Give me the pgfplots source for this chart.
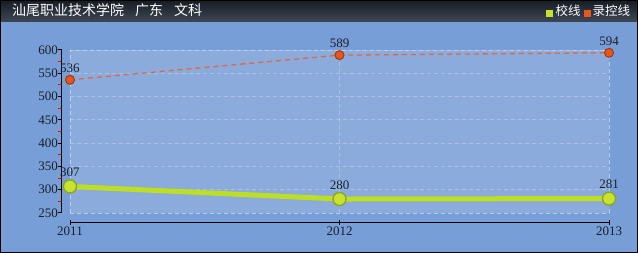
\documentclass[border=0pt]{standalone}
\usepackage{pgfplots}
\pgfplotsset{compat=1.18}
\usepackage{fontspec}
\setmainfont{Liberation Serif}
\newfontfamily\cjk{Noto Sans CJK SC}
\definecolor{bgblue}{HTML}{779ED6}
\definecolor{linegreen}{HTML}{BEDE22}
\definecolor{markgreen}{HTML}{C8E230}
\definecolor{edgegreen}{HTML}{8DA61A}
\definecolor{lineorange}{HTML}{E2693A}
\definecolor{markorange}{HTML}{E2581E}
\definecolor{edgeorange}{HTML}{A8340F}
\definecolor{axisdark}{HTML}{1A1F2A}
\begin{document}
\begin{tikzpicture}[x=1pt,y=1pt]
% background
\fill[bgblue] (0,0) rectangle (638,231);
\shade[top color={rgb,255:red,22;green,28;blue,36}, bottom color={rgb,255:red,62;green,72;blue,84}] (0,231) rectangle (638,253);
\draw[black, line width=1pt] (0.5,0.5) rectangle (637.5,252.5);
% title
\node[anchor=base west, text=white, inner sep=0pt, font=\cjk\fontsize{14}{14}\selectfont] at (12,237) {汕尾职业技术学院\hspace{11pt}广东\hspace{11pt}文科};
% legend
\fill[markgreen] (546,235.5) rectangle (553,242.5);
\node[anchor=base west, text=white, inner sep=0pt, font=\cjk\fontsize{12.5}{13}\selectfont] at (555.5,237) {校线};
\fill[markorange] (583.5,235.5) rectangle (590.5,242.5);
\node[anchor=base west, text=white, inner sep=0pt, font=\cjk\fontsize{12.5}{13}\selectfont] at (592.5,237) {录控线};
\begin{axis}[
  at={(70pt,40pt)}, anchor=south west,
  scale only axis, width=539pt, height=163pt,
  xmin=2011, xmax=2013, ymin=250, ymax=600,
  xtick={2011,2012,2013}, ytick={250,300,...,600},
  /pgf/number format/1000 sep={},
  /pgf/number format/assume math mode=true,
  ticklabel style={font=\fontsize{13}{13}\selectfont, text=axisdark},
  major tick length=0pt,
  axis line style={draw=none},
  yticklabel style={xshift=-11pt, inner sep=1pt},
  xticklabel style={yshift=-13pt, inner sep=1pt},
  grid=major,
  major grid style={dash pattern=on 4pt off 3pt, white, opacity=0.25, line width=0.8pt},
  axis background/.style={fill=white, fill opacity=0.14},
  clip=false,
  nodes near coords,
  every node near coord/.append style={font=\fontsize{13}{13}\selectfont, text=axisdark, anchor=south, inner sep=1pt},
]
\draw[dash pattern=on 4pt off 3pt, white, opacity=0.3, line width=0.8pt] (rel axis cs:0,0) rectangle (rel axis cs:1,1);
% y axis line and ticks
\draw[black, line width=1pt] ([xshift=-9pt]rel axis cs:0,0) -- ([xshift=-9pt]rel axis cs:0,1);
\pgfplotsinvokeforeach{250,300,...,600}{\draw[black, line width=1pt] ([xshift=-12.5pt]axis cs:2011,#1) -- ([xshift=-8pt]axis cs:2011,#1);}
\pgfplotsinvokeforeach{275,325,...,575}{\draw[red, line width=1pt] ([xshift=-12pt]axis cs:2011,#1) -- ([xshift=-9.5pt]axis cs:2011,#1);}
% x axis line and ticks
\draw[black, line width=1pt] ([yshift=-10pt]rel axis cs:0,0) -- ([yshift=-10pt]rel axis cs:1,0);
\pgfplotsinvokeforeach{2011,2012,2013}{\draw[black, line width=1pt] ([yshift=-12pt]axis cs:#1,250) -- ([yshift=-7pt]axis cs:#1,250);}
% series
\addplot[lineorange, dash pattern=on 5pt off 4pt, line width=1.3pt, mark=*, mark size=4.5pt,
  mark options={solid, fill=markorange, draw=edgeorange, line width=1pt},
  nodes near coords style={yshift=6pt}]
  coordinates {(2011,536) (2012,589) (2013,594)};
\addplot[linegreen, line width=5pt, mark=*, mark size=6.5pt,
  mark options={fill=markgreen, draw=edgegreen, line width=1.3pt},
  nodes near coords style={yshift=8pt}]
  coordinates {(2011,307) (2012,280) (2013,281)};
\end{axis}
\end{tikzpicture}
\end{document}
